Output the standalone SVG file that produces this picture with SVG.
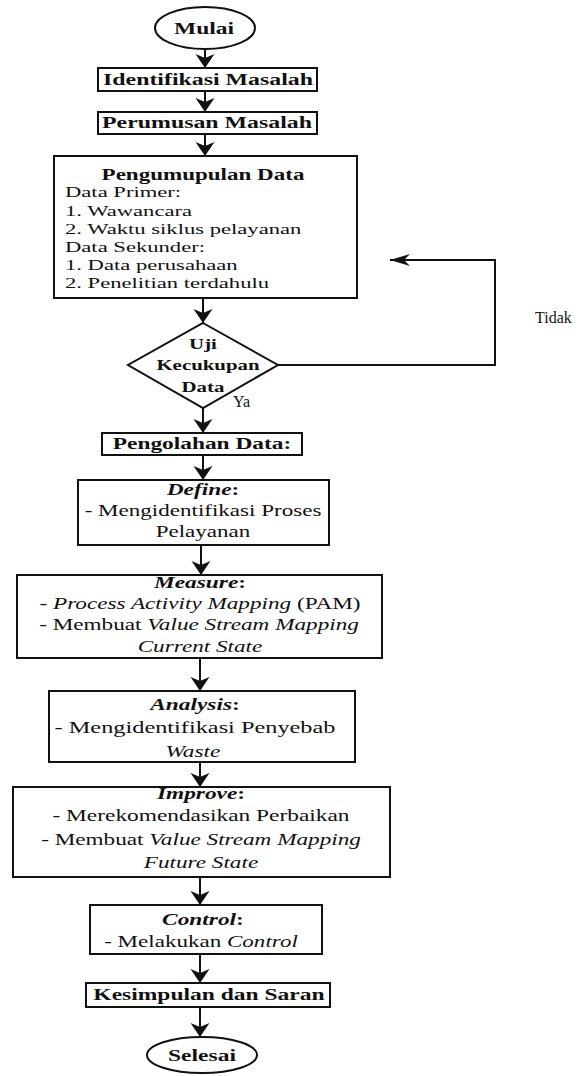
<svg xmlns="http://www.w3.org/2000/svg" width="581" height="1076" viewBox="0 0 581 1076">
<style>
text{font-family:"Liberation Serif","Times New Roman",serif;font-size:16px;fill:#111;}
.c{text-anchor:middle;}
.b{font-weight:bold;}
.i{font-style:italic;}
.l{font-size:15.5px;}
.d{font-size:14.5px;font-weight:bold;}
.shape{fill:#fff;stroke:#111;stroke-width:2;}
.conn{fill:none;stroke:#111;stroke-width:2;}
</style>
<defs>
<marker id="ah" viewBox="-15 -11 16 22" refX="0" refY="0" markerWidth="16" markerHeight="22" markerUnits="userSpaceOnUse" orient="auto">
<path d="M0,0 L-14,-9.5 L-10,0 L-14,9.5 Z" fill="#111"/>
</marker>
<marker id="ahl" viewBox="-21 -7 22 14" refX="0" refY="0" markerWidth="22" markerHeight="14" markerUnits="userSpaceOnUse" orient="auto">
<path d="M0,0 L-20,-6 L-14,0 L-20,6 Z" fill="#111"/>
</marker>
</defs>
<rect width="581" height="1076" fill="#fff"/>

<g id="connectors">
<line class="conn" x1="205" y1="49" x2="205" y2="68" marker-end="url(#ah)"/>
<line class="conn" x1="205" y1="91" x2="205" y2="112" marker-end="url(#ah)"/>
<line class="conn" x1="205" y1="134" x2="205" y2="156" marker-end="url(#ah)"/>
<line class="conn" x1="203" y1="298" x2="203" y2="323" marker-end="url(#ah)"/>
<polyline class="conn" points="278,365 495,365 495,260 390,260" marker-end="url(#ahl)"/>
<line class="conn" x1="203" y1="408" x2="203" y2="433" marker-end="url(#ah)"/>
<line class="conn" x1="203" y1="455" x2="203" y2="480" marker-end="url(#ah)"/>
<line class="conn" x1="201" y1="545" x2="201" y2="575" marker-end="url(#ah)"/>
<line class="conn" x1="200" y1="658" x2="200" y2="691" marker-end="url(#ah)"/>
<line class="conn" x1="200" y1="762" x2="200" y2="787" marker-end="url(#ah)"/>
<line class="conn" x1="200" y1="877" x2="200" y2="905" marker-end="url(#ah)"/>
<line class="conn" x1="200" y1="954" x2="200" y2="983" marker-end="url(#ah)"/>
<line class="conn" x1="200" y1="1007" x2="200" y2="1037" marker-end="url(#ah)"/>
<text x="535" y="323">Tidak</text>
<text x="233" y="407">Ya</text>
</g>

<g id="mulai">
<ellipse class="shape" cx="205" cy="28" rx="50" ry="21"/>
<text class="c b" transform="translate(204,34) scale(1.47,1)">Mulai</text>
</g>

<g id="identifikasi">
<rect class="shape" x="98" y="68" width="219" height="23"/>
<text class="c b" transform="translate(208,85) scale(1.49,1)">Identifikasi Masalah</text>
</g>

<g id="perumusan">
<rect class="shape" x="98" y="112" width="219" height="22"/>
<text class="c b" transform="translate(207,128) scale(1.49,1)">Perumusan Masalah</text>
</g>

<g id="pengumpulan">
<rect class="shape" x="54" y="156" width="303" height="142"/>
<text class="c b" transform="translate(203,180) scale(1.44,1)">Pengumupulan Data</text>
<text class="l" transform="translate(65,197) scale(1.46,1)">Data Primer:</text>
<text class="l" transform="translate(65,216) scale(1.46,1)">1. Wawancara</text>
<text class="l" transform="translate(65,234) scale(1.46,1)">2. Waktu siklus pelayanan</text>
<text class="l" transform="translate(65,252) scale(1.46,1)">Data Sekunder:</text>
<text class="l" transform="translate(65,270) scale(1.46,1)">1. Data perusahaan</text>
<text class="l" transform="translate(65,288) scale(1.46,1)">2. Penelitian terdahulu</text>
</g>

<g id="uji">
<polygon class="shape" points="203,323 278,365 203,408 128,365"/>
<text class="c d" transform="translate(203,349) scale(1.44,1)">Uji</text>
<text class="c d" transform="translate(208,370) scale(1.44,1)">Kecukupan</text>
<text class="c d" transform="translate(203,392) scale(1.44,1)">Data</text>
</g>

<g id="pengolahan">
<rect class="shape" x="102" y="433" width="200" height="22"/>
<text class="c b" transform="translate(202,449) scale(1.46,1)">Pengolahan Data:</text>
</g>

<g id="define">
<rect class="shape" x="78" y="480" width="251" height="65"/>
<text class="c b" transform="translate(203,495) scale(1.46,1)"><tspan class="i">Define</tspan>:</text>
<text class="c" transform="translate(203,516) scale(1.44,1)">- Mengidentifikasi Proses</text>
<text class="c" transform="translate(203,537) scale(1.44,1)">Pelayanan</text>
</g>

<g id="measure">
<rect class="shape" x="17" y="575" width="365" height="83"/>
<text class="c b" transform="translate(200,588) scale(1.46,1)"><tspan class="i">Measure</tspan>:</text>
<text class="c" transform="translate(200,609) scale(1.45,1)">- <tspan class="i">Process Activity Mapping</tspan> (PAM)</text>
<text class="c" transform="translate(199,630) scale(1.45,1)">- Membuat <tspan class="i">Value Stream Mapping</tspan></text>
<text class="c i" transform="translate(200,652) scale(1.45,1)">Current State</text>
</g>

<g id="analysis">
<rect class="shape" x="49" y="691" width="306" height="71"/>
<text class="c b" transform="translate(195,710) scale(1.46,1)"><tspan class="i">Analysis</tspan>:</text>
<text class="c" transform="translate(195,733) scale(1.52,1)">- Mengidentifikasi Penyebab</text>
<text class="c i" transform="translate(193,757) scale(1.46,1)">Waste</text>
</g>

<g id="improve">
<rect class="shape" x="13" y="787" width="377" height="90"/>
<text class="c b" transform="translate(201,799) scale(1.46,1)"><tspan class="i">Improve</tspan>:</text>
<text class="c" transform="translate(201,821) scale(1.46,1)">- Merekomendasikan Perbaikan</text>
<text class="c" transform="translate(201,845) scale(1.45,1)">- Membuat <tspan class="i">Value Stream Mapping</tspan></text>
<text class="c i" transform="translate(201,868) scale(1.45,1)">Future State</text>
</g>

<g id="control">
<rect class="shape" x="90" y="905" width="232" height="49"/>
<text class="c b" transform="translate(203,925) scale(1.46,1)"><tspan class="i">Control</tspan>:</text>
<text class="c" transform="translate(201,947) scale(1.44,1)">- Melakukan <tspan class="i">Control</tspan></text>
</g>

<g id="kesimpulan">
<rect class="shape" x="86" y="983" width="244" height="24"/>
<text class="c b" transform="translate(209,1000) scale(1.47,1)">Kesimpulan dan Saran</text>
</g>

<g id="selesai">
<ellipse class="shape" cx="202" cy="1055" rx="55" ry="18"/>
<text class="c b" transform="translate(202,1061) scale(1.47,1)">Selesai</text>
</g>
</svg>
